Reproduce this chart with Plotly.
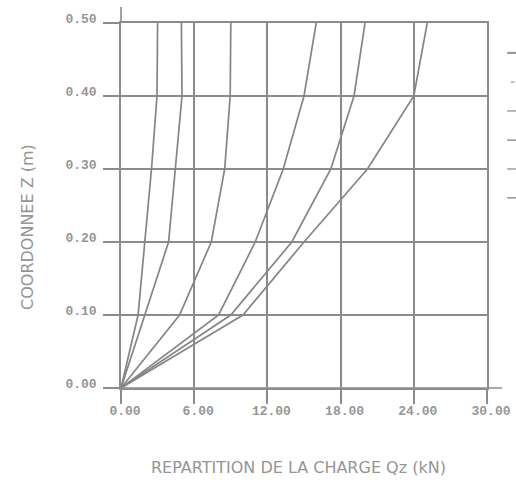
import plotly.graph_objects as go

# Height coordinate of each computed section (m)
z_levels = [0.0, 0.1, 0.2, 0.3, 0.4, 0.5]

# Distributed load Qz (kN) along the height, one list per load case
qz_case_1 = [0.0, 1.4, 1.95, 2.5, 2.95, 3.0]
qz_case_2 = [0.0, 1.95, 3.9, 4.45, 5.0, 4.95]
qz_case_3 = [0.0, 4.8, 7.4, 8.5, 8.95, 9.0]
qz_case_4 = [0.0, 8.0, 11.0, 13.3, 15.0, 16.0]
qz_case_5 = [0.0, 9.0, 14.0, 17.2, 19.1, 20.0]
qz_case_6 = [0.0, 10.0, 15.0, 20.2, 24.0, 25.1]

x_tick_values = [0, 6, 12, 18, 24, 30]
x_tick_labels = ["0.00", "6.00", "12.00", "18.00", "24.00", "30.00"]
y_tick_values = [0.0, 0.1, 0.2, 0.3, 0.4, 0.5]
y_tick_labels = ["0.00", "0.10", "0.20", "0.30", "0.40", "0.50"]

LINE = "#858585"
GRID = "#8c8c8c"
TEXT = "#959595"

fig = go.Figure()
for qz in [qz_case_1, qz_case_2, qz_case_3, qz_case_4, qz_case_5, qz_case_6]:
    fig.add_trace(go.Scatter(
        x=qz, y=z_levels, mode="lines",
        line=dict(color=LINE, width=1.7),
        showlegend=False, hoverinfo="skip",
    ))

tick_font = dict(family="Liberation Mono", size=13, color=TEXT, weight="bold")

fig.update_xaxes(
    range=[0, 30], tickvals=x_tick_values, ticktext=x_tick_labels,
    showgrid=True, gridcolor=GRID, gridwidth=1.6,
    showline=True, linecolor=GRID, linewidth=1.6, mirror=True,
    ticks="outside", ticklen=14, tickwidth=1.6, tickcolor=GRID,
    tickfont=tick_font, ticklabelshift=4, ticklabelstandoff=-4, zeroline=False,
)
fig.update_yaxes(
    range=[0, 0.5], tickvals=y_tick_values, ticktext=y_tick_labels,
    showgrid=True, gridcolor=GRID, gridwidth=1.6,
    showline=True, linecolor=GRID, linewidth=1.6, mirror=True,
    ticks="outside", ticklen=16, tickwidth=1.6, tickcolor=GRID,
    tickfont=tick_font, ticklabelshift=-5, ticklabelstandoff=4, zeroline=False,
)

# Axis lines running past the plotted range
fig.add_shape(type="line", xref="paper", yref="paper", x0=0, x1=1.041, y0=0, y1=0,
              line=dict(color=GRID, width=1.6))
fig.add_shape(type="line", xref="paper", yref="paper", x0=0, x1=0, y0=1, y1=1.044,
              line=dict(color=GRID, width=1.6))

# Key symbols at the right border
key_rows = [0.918, 0.838, 0.759, 0.679, 0.600, 0.521]
key_widths = [2.2, 1.2, 1.4, 1.6, 1.4, 1.6]
for i, (yk, wk) in enumerate(zip(key_rows, key_widths)):
    x0 = 1.065 if i == 1 else 1.055
    x1 = 1.075 if i == 1 else 1.095
    fig.add_shape(type="line", xref="paper", yref="paper", x0=x0, x1=x1, y0=yk, y1=yk,
                  line=dict(color="#9a9a9a", width=wk))

title_font = dict(family="DejaVu Sans", size=16, color=TEXT)
fig.add_annotation(text="REPARTITION DE LA CHARGE Qz (kN)", xref="paper", yref="paper",
                   x=0.484, y=-0.219, showarrow=False, font=title_font,
                   xanchor="center", yanchor="middle")
fig.add_annotation(text="COORDONNEE Z (m)", xref="paper", yref="paper",
                   x=-0.257, y=0.441, showarrow=False, font=title_font, textangle=-90,
                   xanchor="center", yanchor="middle")

fig.update_layout(
    width=516, height=482,
    margin=dict(l=121, r=29, t=23, b=94, autoexpand=False),
    paper_bgcolor="white", plot_bgcolor="white",
)

fig.write_html("out.html")
